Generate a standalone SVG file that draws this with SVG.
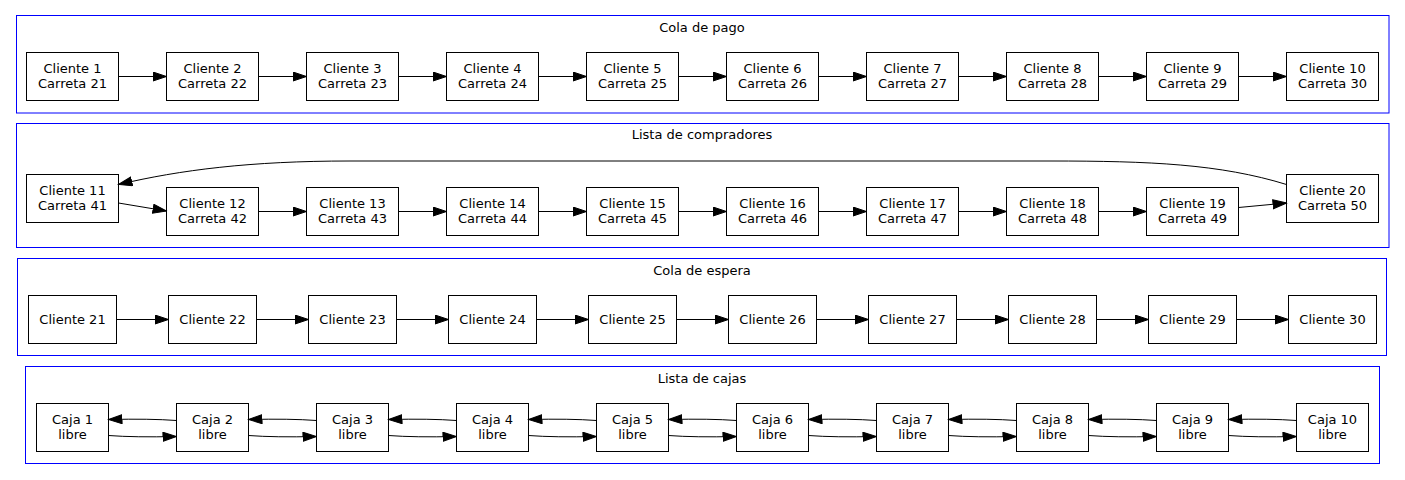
<svg xmlns="http://www.w3.org/2000/svg" width="1405" height="480" viewBox="0 0 1405 480">
<defs>
<style>
.cl{fill:none;stroke:#0000ff;stroke-width:1}
.n rect{fill:#fff;stroke:#000;stroke-width:1}
text{font-family:"DejaVu Sans","Liberation Sans",sans-serif;font-size:13px;fill:#000;text-anchor:middle}
.e path{fill:none;stroke:#000;stroke-width:1;marker-end:url(#ah)}
</style>
<marker id="ah" markerUnits="userSpaceOnUse" markerWidth="15" markerHeight="11" refX="14" refY="5" orient="auto" viewBox="0 0 15 11">
<path d="M0.5,0.5 L14,5 L0.5,9.5 z" fill="#000" stroke="#000" stroke-width="1"/>
</marker>
</defs>
<rect width="1405" height="480" fill="#fff"/>

<g id="cluster_pago">
<rect class="cl" x="16.5" y="15.5" width="1372.5" height="97.5"/>
<text x="702" y="31.5">Cola de pago</text>
</g>
<g id="cluster_compradores">
<rect class="cl" x="16.5" y="123.5" width="1372.5" height="124"/>
<text x="702" y="139">Lista de compradores</text>
</g>
<g id="cluster_espera">
<rect class="cl" x="17.5" y="258.5" width="1369" height="97"/>
<text x="702" y="275">Cola de espera</text>
</g>
<g id="cluster_cajas">
<rect class="cl" x="25.5" y="366.5" width="1354" height="97"/>
<text x="702" y="382.5">Lista de cajas</text>
</g>

<g id="c1" class="n"><rect x="26.5" y="52.5" width="92" height="48"/><text x="72.5" y="73">Cliente 1</text><text x="72.5" y="88">Carreta 21</text></g>
<g id="c2" class="n"><rect x="166.5" y="52.5" width="92" height="48"/><text x="212.5" y="73">Cliente 2</text><text x="212.5" y="88">Carreta 22</text></g>
<g id="c3" class="n"><rect x="306.5" y="52.5" width="92" height="48"/><text x="352.5" y="73">Cliente 3</text><text x="352.5" y="88">Carreta 23</text></g>
<g id="c4" class="n"><rect x="446.5" y="52.5" width="92" height="48"/><text x="492.5" y="73">Cliente 4</text><text x="492.5" y="88">Carreta 24</text></g>
<g id="c5" class="n"><rect x="586.5" y="52.5" width="92" height="48"/><text x="632.5" y="73">Cliente 5</text><text x="632.5" y="88">Carreta 25</text></g>
<g id="c6" class="n"><rect x="726.5" y="52.5" width="92" height="48"/><text x="772.5" y="73">Cliente 6</text><text x="772.5" y="88">Carreta 26</text></g>
<g id="c7" class="n"><rect x="866.5" y="52.5" width="92" height="48"/><text x="912.5" y="73">Cliente 7</text><text x="912.5" y="88">Carreta 27</text></g>
<g id="c8" class="n"><rect x="1006.5" y="52.5" width="92" height="48"/><text x="1052.5" y="73">Cliente 8</text><text x="1052.5" y="88">Carreta 28</text></g>
<g id="c9" class="n"><rect x="1146.5" y="52.5" width="92" height="48"/><text x="1192.5" y="73">Cliente 9</text><text x="1192.5" y="88">Carreta 29</text></g>
<g id="c10" class="n"><rect x="1286.5" y="52.5" width="92" height="48"/><text x="1332.5" y="73">Cliente 10</text><text x="1332.5" y="88">Carreta 30</text></g>

<g id="c11" class="n"><rect x="26.5" y="174.5" width="92" height="48"/><text x="72.5" y="195">Cliente 11</text><text x="72.5" y="210">Carreta 41</text></g>
<g id="c12" class="n"><rect x="166.5" y="187.5" width="92" height="48"/><text x="212.5" y="208">Cliente 12</text><text x="212.5" y="223">Carreta 42</text></g>
<g id="c13" class="n"><rect x="306.5" y="187.5" width="92" height="48"/><text x="352.5" y="208">Cliente 13</text><text x="352.5" y="223">Carreta 43</text></g>
<g id="c14" class="n"><rect x="446.5" y="187.5" width="92" height="48"/><text x="492.5" y="208">Cliente 14</text><text x="492.5" y="223">Carreta 44</text></g>
<g id="c15" class="n"><rect x="586.5" y="187.5" width="92" height="48"/><text x="632.5" y="208">Cliente 15</text><text x="632.5" y="223">Carreta 45</text></g>
<g id="c16" class="n"><rect x="726.5" y="187.5" width="92" height="48"/><text x="772.5" y="208">Cliente 16</text><text x="772.5" y="223">Carreta 46</text></g>
<g id="c17" class="n"><rect x="866.5" y="187.5" width="92" height="48"/><text x="912.5" y="208">Cliente 17</text><text x="912.5" y="223">Carreta 47</text></g>
<g id="c18" class="n"><rect x="1006.5" y="187.5" width="92" height="48"/><text x="1052.5" y="208">Cliente 18</text><text x="1052.5" y="223">Carreta 48</text></g>
<g id="c19" class="n"><rect x="1146.5" y="187.5" width="92" height="48"/><text x="1192.5" y="208">Cliente 19</text><text x="1192.5" y="223">Carreta 49</text></g>
<g id="c20" class="n"><rect x="1286.5" y="174.5" width="92" height="48"/><text x="1332.5" y="195">Cliente 20</text><text x="1332.5" y="210">Carreta 50</text></g>

<g id="c21" class="n"><rect x="28.5" y="295.5" width="88" height="48"/><text x="72.5" y="324">Cliente 21</text></g>
<g id="c22" class="n"><rect x="168.5" y="295.5" width="88" height="48"/><text x="212.5" y="324">Cliente 22</text></g>
<g id="c23" class="n"><rect x="308.5" y="295.5" width="88" height="48"/><text x="352.5" y="324">Cliente 23</text></g>
<g id="c24" class="n"><rect x="448.5" y="295.5" width="88" height="48"/><text x="492.5" y="324">Cliente 24</text></g>
<g id="c25" class="n"><rect x="588.5" y="295.5" width="88" height="48"/><text x="632.5" y="324">Cliente 25</text></g>
<g id="c26" class="n"><rect x="728.5" y="295.5" width="88" height="48"/><text x="772.5" y="324">Cliente 26</text></g>
<g id="c27" class="n"><rect x="868.5" y="295.5" width="88" height="48"/><text x="912.5" y="324">Cliente 27</text></g>
<g id="c28" class="n"><rect x="1008.5" y="295.5" width="88" height="48"/><text x="1052.5" y="324">Cliente 28</text></g>
<g id="c29" class="n"><rect x="1148.5" y="295.5" width="88" height="48"/><text x="1192.5" y="324">Cliente 29</text></g>
<g id="c30" class="n"><rect x="1288.5" y="295.5" width="88" height="48"/><text x="1332.5" y="324">Cliente 30</text></g>

<g id="k1" class="n"><rect x="36.5" y="403.5" width="72" height="48"/><text x="72.5" y="424">Caja 1</text><text x="72.5" y="439">libre</text></g>
<g id="k2" class="n"><rect x="176.5" y="403.5" width="72" height="48"/><text x="212.5" y="424">Caja 2</text><text x="212.5" y="439">libre</text></g>
<g id="k3" class="n"><rect x="316.5" y="403.5" width="72" height="48"/><text x="352.5" y="424">Caja 3</text><text x="352.5" y="439">libre</text></g>
<g id="k4" class="n"><rect x="456.5" y="403.5" width="72" height="48"/><text x="492.5" y="424">Caja 4</text><text x="492.5" y="439">libre</text></g>
<g id="k5" class="n"><rect x="596.5" y="403.5" width="72" height="48"/><text x="632.5" y="424">Caja 5</text><text x="632.5" y="439">libre</text></g>
<g id="k6" class="n"><rect x="736.5" y="403.5" width="72" height="48"/><text x="772.5" y="424">Caja 6</text><text x="772.5" y="439">libre</text></g>
<g id="k7" class="n"><rect x="876.5" y="403.5" width="72" height="48"/><text x="912.5" y="424">Caja 7</text><text x="912.5" y="439">libre</text></g>
<g id="k8" class="n"><rect x="1016.5" y="403.5" width="72" height="48"/><text x="1052.5" y="424">Caja 8</text><text x="1052.5" y="439">libre</text></g>
<g id="k9" class="n"><rect x="1156.5" y="403.5" width="72" height="48"/><text x="1192.5" y="424">Caja 9</text><text x="1192.5" y="439">libre</text></g>
<g id="k10" class="n"><rect x="1296.5" y="403.5" width="72" height="48"/><text x="1332.5" y="424">Caja 10</text><text x="1332.5" y="439">libre</text></g>

<g id="connectors" class="e">
<path d="M118.5,76.5 H166.5"/><path d="M258.5,76.5 H306.5"/><path d="M398.5,76.5 H446.5"/><path d="M538.5,76.5 H586.5"/><path d="M678.5,76.5 H726.5"/><path d="M818.5,76.5 H866.5"/><path d="M958.5,76.5 H1006.5"/><path d="M1098.5,76.5 H1146.5"/><path d="M1238.5,76.5 H1286.5"/>

<path d="M118.5,203 L166.5,211"/>
<path d="M258.5,211.5 H306.5"/><path d="M398.5,211.5 H446.5"/><path d="M538.5,211.5 H586.5"/><path d="M678.5,211.5 H726.5"/><path d="M818.5,211.5 H866.5"/><path d="M958.5,211.5 H1006.5"/><path d="M1098.5,211.5 H1146.5"/>
<path d="M1238.5,207.5 L1286.5,203"/>
<path d="M1286.5,184.5 C1220,164 1150,161 1050,161 L350,161 C250,161 180,170 118.5,184.5"/>

<path d="M116.5,319.5 H168.5"/><path d="M256.5,319.5 H308.5"/><path d="M396.5,319.5 H448.5"/><path d="M536.5,319.5 H588.5"/><path d="M676.5,319.5 H728.5"/><path d="M816.5,319.5 H868.5"/><path d="M956.5,319.5 H1008.5"/><path d="M1096.5,319.5 H1148.5"/><path d="M1236.5,319.5 H1288.5"/>

<path d="M176.5,420.5 Q150,418.5 108.5,419.5"/><path d="M108.5,435.5 Q135,437.5 176.5,436.5"/>
<path d="M316.5,420.5 Q290,418.5 248.5,419.5"/><path d="M248.5,435.5 Q275,437.5 316.5,436.5"/>
<path d="M456.5,420.5 Q430,418.5 388.5,419.5"/><path d="M388.5,435.5 Q415,437.5 456.5,436.5"/>
<path d="M596.5,420.5 Q570,418.5 528.5,419.5"/><path d="M528.5,435.5 Q555,437.5 596.5,436.5"/>
<path d="M736.5,420.5 Q710,418.5 668.5,419.5"/><path d="M668.5,435.5 Q695,437.5 736.5,436.5"/>
<path d="M876.5,420.5 Q850,418.5 808.5,419.5"/><path d="M808.5,435.5 Q835,437.5 876.5,436.5"/>
<path d="M1016.5,420.5 Q990,418.5 948.5,419.5"/><path d="M948.5,435.5 Q975,437.5 1016.5,436.5"/>
<path d="M1156.5,420.5 Q1130,418.5 1088.5,419.5"/><path d="M1088.5,435.5 Q1115,437.5 1156.5,436.5"/>
<path d="M1296.5,420.5 Q1270,418.5 1228.5,419.5"/><path d="M1228.5,435.5 Q1255,437.5 1296.5,436.5"/>
</g>
</svg>
